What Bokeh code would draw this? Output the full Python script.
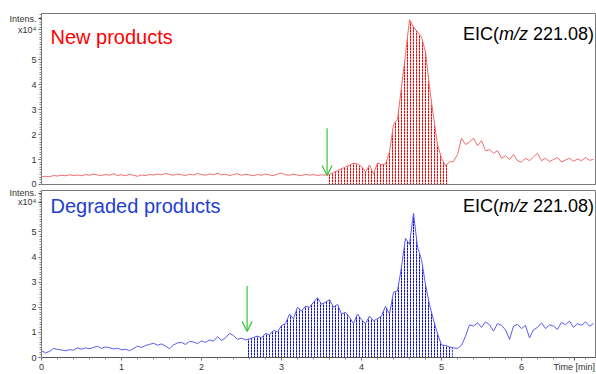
import numpy as np
from bokeh.plotting import figure
from bokeh.models import FixedTicker, Label, Arrow, OpenHead, Range1d
from bokeh.layouts import column
from bokeh.embed import file_html
from bokeh.resources import INLINE

# ---------------- data ----------------
time_min = np.round(np.arange(0, 6.91, 0.05), 2)  # sampling grid, 0.00 ... 6.90 min

new_intensity = [  # x10^4, "New products"
    0.30, 0.33, 0.31, 0.36, 0.34, 0.37, 0.35, 0.39, 0.36, 0.38,
    0.35, 0.40, 0.37, 0.42, 0.38, 0.36, 0.40, 0.37, 0.43, 0.36,
    0.39, 0.35, 0.41, 0.37, 0.33, 0.38, 0.36, 0.40, 0.38, 0.42,
    0.39, 0.44, 0.40, 0.37, 0.42, 0.39, 0.36, 0.41, 0.38, 0.44,
    0.40, 0.37, 0.42, 0.39, 0.45, 0.38, 0.41, 0.36, 0.40, 0.43,
    0.37, 0.41, 0.38, 0.35, 0.40, 0.37, 0.42, 0.38, 0.36, 0.41,
    0.46, 0.39, 0.37, 0.42, 0.38, 0.35, 0.41, 0.37, 0.40, 0.36,
    0.39, 0.37, 0.40, 0.48, 0.55, 0.63, 0.70, 0.78, 0.85, 0.82,
    0.72, 0.50, 0.78, 0.42, 0.86, 0.80, 0.82, 1.30, 2.40, 2.60,
    3.90, 5.20, 6.60, 6.30, 6.10, 5.90, 5.30, 3.90, 2.70, 1.60,
    1.05, 0.75, 0.90, 0.92, 1.20, 1.85, 1.60, 1.70, 1.85, 1.55,
    1.75, 1.35, 1.40, 1.25, 1.35, 1.05, 1.15, 1.00, 1.20, 0.95,
    0.90, 1.05, 0.95, 1.10, 1.25, 0.95, 1.05, 0.92, 1.00, 1.08,
    0.90, 0.98, 1.05, 0.93, 1.02, 0.95, 1.08, 0.97, 1.00,
]

degraded_intensity = [  # x10^4, "Degraded products"
    0.27, 0.19, 0.24, 0.36, 0.32, 0.30, 0.27, 0.31, 0.29, 0.38,
    0.33, 0.38, 0.35, 0.40, 0.45, 0.36, 0.42, 0.39, 0.34, 0.37,
    0.31, 0.33, 0.27, 0.36, 0.45, 0.40, 0.48, 0.52, 0.57, 0.49,
    0.54, 0.46, 0.35, 0.50, 0.58, 0.60, 0.52, 0.64, 0.62, 0.55,
    0.66, 0.60, 0.70, 0.65, 0.83, 0.68, 0.78, 0.96, 0.88, 0.72,
    0.77, 0.70, 0.74, 0.80, 0.85, 0.78, 0.96, 0.90, 1.08, 1.02,
    1.27, 1.35, 1.73, 1.54, 2.00, 1.85, 2.04, 2.00, 2.20, 2.38,
    2.12, 2.20, 2.30, 2.00, 2.12, 1.73, 1.80, 1.60, 1.35, 1.73,
    1.50, 1.35, 1.65, 1.46, 1.55, 1.65, 2.04, 1.73, 2.60, 2.65,
    3.60, 4.75, 4.50, 5.75, 4.40, 3.90, 2.90, 2.10, 1.50, 0.95,
    0.50, 0.48, 0.42, 0.38, 0.36, 0.48, 0.85, 1.30, 1.25, 1.38,
    1.20, 1.42, 1.30, 1.05, 1.35, 1.28, 1.10, 0.72, 1.25, 1.32,
    1.15, 1.28, 0.78, 1.10, 1.20, 1.38, 1.15, 1.30, 1.25, 1.12,
    1.40, 1.30, 1.45, 1.20, 1.35, 1.28, 1.42, 1.25, 1.35,
]

new_fill_range = [3.57, 5.07]        # integrated region (min)
degraded_fill_range = [2.56, 5.14]
new_arrow = [3.57, 2.25, 0.36]        # x, y_start, y_end
degraded_arrow = [2.57, 2.85, 1.04]

y_ticks = [0, 1, 2, 3, 4, 5]
y_tick_labels = ["0", "1", "2", "3", "4", "5"]
x_ticks = [0, 1, 2, 3, 4, 5, 6, 6.66]
x_tick_labels = ["0", "1", "2", "3", "4", "5", "6", "Time [min]"]
unit_labels = ["Intens.", "x10\u2074"]
new_title = "New products"
degraded_title = "Degraded products"
eic_parts = ["EIC(", "m/z", "221.08)"]

# ---------------- styling ----------------
FONT = "Liberation Sans"
X_END = 6.925
W = 596
LEFT = 41
RIGHT = 1
FRAME_W = W - LEFT - RIGHT
GRAY = "#7a7a7a"


def fill_part(x, y, lo, hi):
    x = np.asarray(x, float)
    y = np.asarray(y, float)
    m = (x > lo) & (x < hi)
    xs = np.concatenate([[lo], x[m], [hi]])
    ys = np.concatenate([[np.interp(lo, x, y)], y[m], [np.interp(hi, x, y)]])
    return xs, ys


def make_panel(height, ytop, bt, bb, ys, fill_rng, line_color, hatch_color,
               title, title_color, arrow, title_px, eic_px, unit_px, with_xaxis):
    p = figure(width=W, height=height, x_range=Range1d(0, X_END), y_range=Range1d(0, ytop),
               output_backend="svg", toolbar_location=None,
               min_border_left=LEFT, min_border_right=RIGHT, min_border_top=bt, min_border_bottom=bb,
               x_axis_location="below" if with_xaxis else None)
    p.grid.visible = False
    p.outline_line_color = GRAY
    p.outline_line_width = 1
    p.background_fill_color = "white"
    p.border_fill_color = "white"

    frame_h = height - bt - bb
    s = frame_h / ytop  # px per unit
    px_x = FRAME_W / X_END

    # y axis: numeric ticks plus the unit caption as two extra labelled ticks
    unit_pos = [round(ytop - unit_px[0] / s, 3), round(ytop - unit_px[1] / s, 3)]
    ya = p.yaxis[0]
    ya.ticker = FixedTicker(ticks=y_ticks + unit_pos,
                            minor_ticks=list(np.round(np.arange(0, ytop, 0.1), 2)))
    overrides = {t: l for t, l in zip(y_ticks, y_tick_labels)}
    overrides.update({t: l for t, l in zip(unit_pos, unit_labels)})
    ya.major_label_overrides = overrides
    ya.major_label_text_font = FONT
    ya.major_label_text_font_size = "9px"
    ya.major_label_text_color = "#333333"
    ya.axis_line_color = GRAY
    ya.major_tick_line_color = "#555555"
    ya.minor_tick_line_color = "#888888"
    ya.major_tick_out = 3
    ya.major_tick_in = 0
    ya.minor_tick_out = 2
    ya.minor_tick_in = 0
    ya.major_label_standoff = 2

    if with_xaxis:
        xa = p.xaxis[0]
        xa.ticker = FixedTicker(ticks=x_ticks, minor_ticks=list(np.round(np.arange(0, X_END, 0.2), 2)))
        xa.major_label_overrides = {t: l for t, l in zip(x_ticks, x_tick_labels)}
        xa.major_label_text_font = FONT
        xa.major_label_text_font_size = "9px"
        xa.major_label_text_color = "#333333"
        xa.axis_line_color = "#555555"
        xa.major_tick_line_color = "#555555"
        xa.minor_tick_line_color = "#888888"
        xa.major_tick_out = 3
        xa.major_tick_in = 0
        xa.minor_tick_out = 2
        xa.minor_tick_in = 0
        xa.major_label_standoff = 1

    fx, fy = fill_part(time_min, ys, fill_rng[0], fill_rng[1])
    p.varea(x=fx, y1=0, y2=fy, fill_alpha=0, hatch_pattern="vertical_dash",
            hatch_scale=3, hatch_weight=1.0, hatch_color=hatch_color)
    p.line(time_min, ys, line_color=line_color, line_width=1)

    p.add_layout(Arrow(end=OpenHead(size=10, line_color="#3cc43c", line_width=1.2),
                       x_start=arrow[0], y_start=arrow[1], x_end=arrow[0], y_end=arrow[2],
                       line_color="#3cc43c", line_width=1.2))

    p.add_layout(Label(x=9 / px_x, y=ytop - title_px / s, text=title, text_color=title_color,
                       text_font=FONT, text_font_size="20px", text_baseline="alphabetic"))
    # EIC(m/z 221.08)
    widths = [36, 29, 66]
    xr = X_END - 1.5 / px_x
    ypos = ytop - eic_px / s
    p.add_layout(Label(x=xr, y=ypos, text=eic_parts[2], text_align="right", text_font=FONT,
                       text_font_size="18px", text_color="black", text_baseline="alphabetic"))
    p.add_layout(Label(x=xr - widths[2] / px_x, y=ypos, text=eic_parts[1], text_align="right",
                       text_font=FONT, text_font_style="italic", text_font_size="18px",
                       text_color="black", text_baseline="alphabetic"))
    p.add_layout(Label(x=xr - (widths[2] + widths[1]) / px_x, y=ypos, text=eic_parts[0],
                       text_align="right", text_font=FONT, text_font_size="18px",
                       text_color="black", text_baseline="alphabetic"))
    return p


# top panel: frame 13..184 ; bottom panel: frame 190..360, axis 360..374
p1 = make_panel(188, 6.84, 13, 4, new_intensity, new_fill_range, "#f06a6a", "#ff0000",
                new_title, "#ff0000", new_arrow, 23, 20, (5, 16), False)
p2 = make_panel(186, 6.65, 2, 14, degraded_intensity, degraded_fill_range, "#5a5af0", "#1010cc",
                degraded_title, "#1f40d0", degraded_arrow, 16, 16, (3, 12), True)

layout = column(p1, p2, spacing=0)
open("out.html", "w").write(file_html(layout, INLINE))
